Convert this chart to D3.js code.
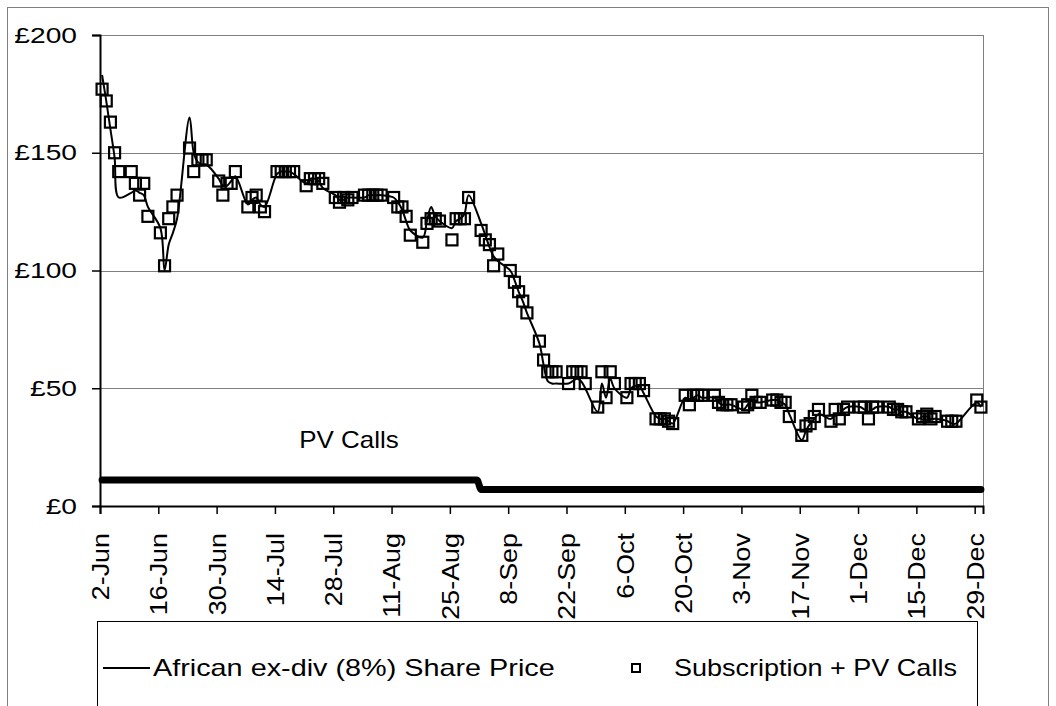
<!DOCTYPE html>
<html>
<head>
<meta charset="utf-8">
<script src="https://cdn.jsdelivr.net/npm/d3@7"></script>
<style>
  html, body { margin: 0; padding: 0; background: #fff; }
  svg { display: block; }
  text { font-family: "Liberation Sans", Arial, sans-serif; fill: #000; }
</style>
</head>
<body>
<svg id="chart" width="1056" height="706"></svg>
<script>
// ---------------- DATA ----------------
const year = 2003;
const tradingDays = [
  "06-02","06-03","06-04","06-05","06-06",
  "06-09","06-10","06-11","06-12","06-13",
  "06-16","06-17","06-18","06-19","06-20",
  "06-23","06-24","06-25","06-26","06-27",
  "06-30","07-01","07-02","07-03","07-04",
  "07-07","07-08","07-09","07-10","07-11",
  "07-14","07-15","07-16","07-17","07-18",
  "07-21","07-22","07-23","07-24","07-25",
  "07-28","07-29","07-30","07-31","08-01",
  "08-04","08-05","08-06","08-07","08-08",
  "08-11","08-12","08-13","08-14","08-15",
  "08-18","08-19","08-20","08-21","08-22",
  "08-25","08-26","08-27","08-28","08-29",
  "09-01","09-02","09-03","09-04","09-05",
  "09-08","09-09","09-10","09-11","09-12",
  "09-15","09-16","09-17","09-18","09-19",
  "09-22","09-23","09-24","09-25","09-26",
  "09-29","09-30","10-01","10-02","10-03",
  "10-06","10-07","10-08","10-09","10-10",
  "10-13","10-14","10-15","10-16","10-17",
  "10-20","10-21","10-22","10-23","10-24",
  "10-27","10-28","10-29","10-30","10-31",
  "11-03","11-04","11-05","11-06","11-07",
  "11-10","11-11","11-12","11-13","11-14",
  "11-17","11-18","11-19","11-20","11-21",
  "11-24","11-25","11-26","11-27","11-28",
  "12-01","12-02","12-03","12-04","12-05",
  "12-08","12-09","12-10","12-11","12-12",
  "12-15","12-16","12-17","12-18","12-19",
  "12-22","12-23","12-24",
  "12-29","12-30"
];
// African ex-div (8%) Share Price (line)
const sharePrice = [
  183,172,160,148,131,
  133,134,133,132,127,
  118,100,111,116,122,
  165,150,146,145,145,
  139,136,136,138,140,
  128,130,131,128,127,
  141,142,142,142,141,
  137,139,139,138,135,
  132,130,130,131,131,
  131,132,132,132,132,
  131,129,126,121,117,
  114,121,127,123,121,
  118,121,122,124,132,
  120,115,110,106,104,
  100,96,91,87,82,
  69,60,53,52,52,
  52,53,54,53,50,
  40,52,46,54,50,
  46,50,51,51,48,
  38,37,37,36,35,
  46,45,46,47,46,
  46,44,43,43,43,
  41,43,45,44,44,
  45,45,44,43,39,
  28,32,35,37,39,
  37,39,39,41,42,
  42,41,40,41,42,
  42,41,41,40,40,
  37,38,38,37,37,
  36,35,35,
  44,42
];
// Subscription + PV Calls (squares)
const subscription = [
  177,172,163,150,142,
  142,137,132,137,123,
  116,102,122,127,132,
  152,142,147,147,147,
  138,132,137,137,142,
  127,131,132,127,125,
  142,142,142,142,142,
  136,139,139,139,137,
  131,129,131,130,131,
  132,132,132,132,132,
  131,127,127,123,115,
  112,120,122,122,121,
  113,122,122,122,131,
  117,113,111,102,107,
  100,95,91,87,82,
  70,62,57,57,57,
  52,57,57,57,52,
  42,57,46,57,52,
  46,52,52,52,49,
  37,37,37,36,35,
  47,43,47,47,47,
  47,44,43,43,43,
  42,43,47,44,44,
  45,45,44,44,38,
  30,34,35,38,41,
  36,41,37,41,42,
  42,42,37,42,42,
  42,41,41,40,40,
  37,38,39,37,38,
  36,36,36,
  45,42
];
// PV Calls (thick line) breakpoints
const pvDates = ["06-02","08-31","09-01","12-30"];
const pvValues = [11, 11, 7, 7];

const xTickLabels = ["2-Jun","16-Jun","30-Jun","14-Jul","28-Jul","11-Aug","25-Aug","8-Sep",
  "22-Sep","6-Oct","20-Oct","3-Nov","17-Nov","1-Dec","15-Dec","29-Dec"];
const yTicks = [0, 50, 100, 150, 200];
const seriesNames = ["African ex-div (8%) Share Price", "Subscription + PV Calls"];
const annotation = "PV  Calls";

// ---------------- CHART ----------------
const svg = d3.select("#chart");
const parseMD = s => d3.timeParse("%Y-%m-%d")(year + "-" + s);
const mid = d => d3.timeHour.offset(d, 12);
const parseTick = s => d3.timeParse("%Y-%d-%b")(year + "-" + s);

const plot = { left: 100, top: 35, right: 983, bottom: 506 };
const x = d3.scaleTime()
  .domain([parseMD("06-02"), parseMD("12-31")])
  .range([plot.left, plot.right]);
const y = d3.scaleLinear().domain([0, 200]).range([plot.bottom, plot.top]);

function stretch(sel, factor) {
  sel.each(function () {
    const w = this.getComputedTextLength();
    d3.select(this).attr("textLength", w * factor).attr("lengthAdjust", "spacingAndGlyphs");
  });
}

// outer chart border
svg.append("rect").attr("x", 7.5).attr("y", 7.5).attr("width", 1041).attr("height", 730)
  .attr("fill", "none").attr("stroke", "#808080").attr("stroke-width", 1);

// gridlines
svg.append("g").selectAll("line").data(yTicks.filter(v => v > 0)).join("line")
  .attr("x1", plot.left).attr("x2", plot.right)
  .attr("y1", d => Math.round(y(d)) + 0.5).attr("y2", d => Math.round(y(d)) + 0.5)
  .attr("stroke", "#808080").attr("stroke-width", 1);
// right border of plot
svg.append("line").attr("x1", plot.right + 0.5).attr("x2", plot.right + 0.5)
  .attr("y1", plot.top).attr("y2", plot.bottom)
  .attr("stroke", "#808080").attr("stroke-width", 1);

// y axis
const yAxis = d3.axisLeft(y).tickValues(yTicks).tickSize(8).tickPadding(15)
  .tickFormat(d => "£" + d);
const gy = svg.append("g").attr("transform", `translate(${plot.left},0)`).call(yAxis);
gy.select(".domain").attr("stroke", "#000").attr("stroke-width", 2);
gy.selectAll(".tick line").attr("stroke", "#000").attr("stroke-width", 1.5);
gy.selectAll(".tick text").attr("font-size", 22).attr("font-family", "Liberation Sans, Arial, sans-serif");
stretch(gy.selectAll(".tick text"), 1.28);

// x axis
const xTickDates = xTickLabels.map(parseTick);
const xAxis = d3.axisBottom(x).tickValues(xTickDates).tickSize(8)
  .tickFormat((d, i) => xTickLabels[i]);
const gx = svg.append("g").attr("transform", `translate(0,${plot.bottom})`).call(xAxis);
gx.select(".domain").attr("stroke", "#000").attr("stroke-width", 2);
gx.selectAll(".tick line").attr("stroke", "#000").attr("stroke-width", 1.5);
gx.selectAll(".tick text")
  .attr("font-size", 24).attr("font-family", "Liberation Sans, Arial, sans-serif")
  .attr("text-anchor", "end").attr("dy", "0.35em")
  .attr("x", 0).attr("y", 0)
  .attr("transform", "translate(0,27) rotate(-90) scale(1.12,1)");

// PV calls thick line
const pvData = pvDates.map((d, i) => ({ date: mid(parseMD(d)), v: pvValues[i] }));
svg.append("path").datum(pvData)
  .attr("fill", "none").attr("stroke", "#000").attr("stroke-width", 7)
  .attr("stroke-linecap", "round").attr("stroke-linejoin", "round")
  .attr("d", d3.line().x(d => x(d.date)).y(d => y(d.v)).curve(d3.curveMonotoneX));

// share price line
const dates = tradingDays.map(d => mid(parseMD(d)));
const lineData = dates.map((d, i) => ({ date: d, v: sharePrice[i] }));
svg.append("path").datum(lineData)
  .attr("fill", "none").attr("stroke", "#000").attr("stroke-width", 2)
  .attr("stroke-linejoin", "round")
  .attr("d", d3.line().x(d => x(d.date)).y(d => y(d.v)).curve(d3.curveCatmullRom.alpha(0.5)));

// subscription squares
const sq = 11;
svg.append("g").selectAll("rect").data(dates.map((d, i) => ({ date: d, v: subscription[i] })))
  .join("rect")
  .attr("x", d => x(d.date) - sq / 2).attr("y", d => y(d.v) - sq / 2)
  .attr("width", sq).attr("height", sq)
  .attr("fill", "none").attr("stroke", "#000").attr("stroke-width", 2.2);

// annotation
const ann = svg.append("text").attr("x", 349).attr("y", 448).attr("text-anchor", "middle")
  .attr("font-size", 24).text(annotation);
stretch(ann, 1.08);

// legend
svg.append("rect").attr("x", 97.5).attr("y", 621.5).attr("width", 880).attr("height", 120)
  .attr("fill", "#fff").attr("stroke", "#000").attr("stroke-width", 1);
svg.append("line").attr("x1", 103).attr("x2", 150).attr("y1", 668).attr("y2", 668)
  .attr("stroke", "#000").attr("stroke-width", 2);
const l1 = svg.append("text").attr("x", 153).attr("y", 676).attr("font-size", 24).text(seriesNames[0]);
stretch(l1, 1.2);
svg.append("rect").attr("x", 632).attr("y", 664).attr("width", 8).attr("height", 8)
  .attr("fill", "none").attr("stroke", "#000").attr("stroke-width", 2);
const l2 = svg.append("text").attr("x", 674).attr("y", 676).attr("font-size", 24).text(seriesNames[1]);
stretch(l2, 1.125);
</script>
</body>
</html>
